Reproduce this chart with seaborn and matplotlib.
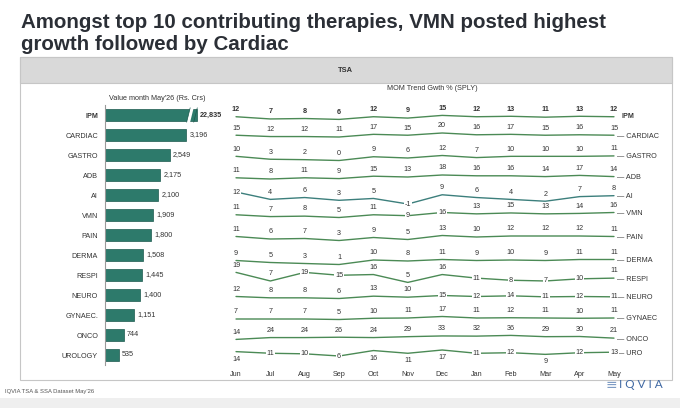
import numpy as np
import pandas as pd
import matplotlib
matplotlib.use("Agg")
import matplotlib.pyplot as plt
import seaborn as sns
from matplotlib.patches import Rectangle

# ---------------- data ----------------
title_lines = ["Amongst top 10 contributing therapies, VMN posted highest",
               "growth followed by Cardiac"]
months = ["Jun", "Jul", "Aug", "Sep", "Oct", "Nov", "Dec", "Jan", "Feb", "Mar", "Apr", "May"]
bar_categories = ["IPM", "CARDIAC", "GASTRO", "ADB", "AI", "VMN", "PAIN", "DERMA",
                  "RESPI", "NEURO", "GYNAEC.", "ONCO", "UROLOGY"]
bar_values = [22835, 3196, 2549, 2175, 2100, 1909, 1800, 1508, 1445, 1400, 1151, 744, 535]
trend_names = ["IPM", "CARDIAC", "GASTRO", "ADB", "AI", "VMN", "PAIN", "DERMA",
               "RESPI", "NEURO", "GYNAEC", "ONCO", "URO"]
ipm = [12, 7, 8, 6, 12, 9, 15, 12, 13, 11, 13, 12]
cardiac = [15, 12, 12, 11, 17, 15, 20, 16, 17, 15, 16, 15]
gastro = [10, 3, 2, 0, 9, 6, 12, 7, 10, 10, 10, 11]
adb = [11, 8, 11, 9, 15, 13, 18, 16, 16, 14, 17, 14]
ai = [12, 4, 6, 3, 5, -1, 9, 6, 4, 2, 7, 8]
vmn = [11, 7, 8, 5, 11, 9, 16, 13, 15, 13, 14, 16]
pain = [11, 6, 7, 3, 9, 5, 13, 10, 12, 12, 12, 11]
derma = [9, 5, 3, 1, 10, 8, 11, 9, 10, 9, 11, 11]
respi = [19, 7, 19, 15, 16, 5, 16, 11, 8, 7, 10, 11]
neuro = [12, 8, 8, 6, 13, 10, 15, 12, 14, 11, 12, 11]
gynaec = [7, 7, 7, 5, 10, 11, 17, 11, 12, 11, 10, 11]
onco = [14, 24, 24, 26, 24, 29, 33, 32, 36, 29, 30, 21]
uro = [14, 11, 10, 6, 16, 11, 17, 11, 12, 9, 12, 13]
trend_series = [ipm, cardiac, gastro, adb, ai, vmn, pain, derma, respi, neuro, gynaec, onco, uro]

# ---------------- style ----------------
BAR_COLOR = "#2d7a6b"
BAR_EDGE = "#1d5a4f"
LINE_COLOR = "#4b8a55"
AI_COLOR = "#3c7f7c"
TXT = "#333333"
FS = 5.2
BAR_CAP = 3620          # axis break for the IPM bar
# label placement per row: a = above, i = inline, b = below
placement = ["aaaaaaaaaaaa", "aaaaaaaaaaaa", "aaaaaaaaaaaa", "aaaaaaaaaaaa",
             "iaaaaiaaaaaa", "aaaaaiiaaaaa", "aaaaaaaaaaaa", "aaaaaaaaaaaa",
             "aaiiaaaiiiia", "aaaaaaiiiiii", "aaaaaaaaaaaa", "aaaaaaaaaaaa",
             "biiibbbiibii"]
amp_px = [4, 4, 5, 4, 12, 5, 5, 5, 10, 3, 3, 4, 6]
row_shift = [0.12, 0.0, 0.15, 0.1, 0.15, 0.0, 0.15, 0.35, 0.12, 0.1, 0.15, 0.12, -0.1]

sns.set_theme(style="white")
plt.rcParams["font.family"] = ["Liberation Sans", "DejaVu Sans"]

W, H = 680, 408
fig = plt.figure(figsize=(W / 100, H / 100), dpi=100)
fig.patch.set_facecolor("white")


def fx(x):
    return x / W


def fy(y):
    return 1 - y / H


# panel box and header band
fig.add_artist(Rectangle((fx(20), fy(380)), fx(652), 323 / H, transform=fig.transFigure,
                         facecolor="white", edgecolor="#c6c6c6", lw=0.8, zorder=-2))
fig.add_artist(Rectangle((fx(20), fy(83)), fx(652), 26 / H, transform=fig.transFigure,
                         facecolor="#d9d9d9", edgecolor="#c6c6c6", lw=0.8, zorder=-1))
fig.add_artist(Rectangle((0, 0), 1, 10 / H, transform=fig.transFigure,
                         facecolor="#efefef", edgecolor="none", zorder=-3))

for k, line in enumerate(title_lines):
    fig.text(fx(21), fy(28.5 + 22 * k), line, ha="left", va="baseline", fontsize=14.8,
             fontweight="bold", color="#2b2f36")
fig.text(fx(345), fy(70), "TSA", ha="center", va="center", fontsize=5.4,
         fontweight="bold", color=TXT)
fig.text(fx(432), fy(89), "MOM Trend Gwth % (SPLY)", ha="center", va="center",
         fontsize=FS, color=TXT)
fig.text(fx(157), fy(98), "Value month May'26 (Rs. Crs)", ha="center", va="center",
         fontsize=FS, color=TXT)
fig.text(fx(5), fy(392), "IQVIA TSA & SSA Dataset May'26", ha="left", va="center",
         fontsize=4.2, color="#555555")
fig.text(fx(617), fy(384.5), "≡", ha="right", va="center", fontsize=10,
         color="#7f9cc4", family="DejaVu Sans")
fig.text(fx(619), fy(384.5), "I Q V I A", ha="left", va="center", fontsize=8.5,
         color="#3f68a3", family=["Lato", "DejaVu Sans"], fontweight="normal")

# ---------------- left: bar chart ----------------
ax_l = fig.add_axes([fx(105), 43 / H, 101.4 / W, 260 / H])
ax_l.set_facecolor("none")
df_bar = pd.DataFrame({"cat": bar_categories,
                       "val": np.minimum(bar_values, BAR_CAP)})
sns.barplot(data=df_bar, x="val", y="cat", orient="h", color=BAR_COLOR, saturation=1,
            width=0.6, edgecolor=BAR_EDGE, linewidth=0.5, ax=ax_l)
ax_l.set_xlim(0, 4000)
ax_l.set_ylim(12.5, -0.5)
ax_l.set_xlabel("")
ax_l.set_ylabel("")
ax_l.set_xticks([])
for s in ["top", "right", "bottom"]:
    ax_l.spines[s].set_visible(False)
ax_l.spines["left"].set_color("#9a9a9a")
ax_l.spines["left"].set_linewidth(0.8)
ax_l.tick_params(axis="y", length=0, pad=5, labelsize=FS, labelcolor=TXT)
for i, lab in enumerate(ax_l.get_yticklabels()):
    if i == 0:
        lab.set_fontweight("bold")
for i, (v, vd) in enumerate(zip(bar_values, df_bar["val"])):
    ax_l.text(vd + 130, i, f"{v:,}", ha="left", va="center", fontsize=FS, color=TXT,
              fontweight="bold" if i == 0 else "normal", clip_on=False)
# break marker on IPM bar
ax_l.plot([BAR_CAP - 330, BAR_CAP - 190], [0.36, -0.36], color="white", lw=2.4,
          solid_capstyle="butt", zorder=5)
for dx in (-400, -120):
    ax_l.plot([BAR_CAP + dx, BAR_CAP + dx + 140], [0.36, -0.36], color=BAR_EDGE, lw=0.5,
              zorder=6)

# ---------------- right: trend strips ----------------
ax_r = fig.add_axes([fx(215.4), 43 / H, 419.2 / W, 260 / H])
ax_r.set_facecolor("none")
xs = np.arange(len(months))
for i, (name, vals) in enumerate(zip(trend_names, trend_series)):
    vals = np.asarray(vals, dtype=float)
    mid = (vals.max() + vals.min()) / 2
    rng = max(vals.max() - vals.min(), 1)
    ys = i + row_shift[i] - (amp_px[i] / 20.0) * (vals - mid) / rng
    df = pd.DataFrame({"m": xs, "y": ys})
    sns.lineplot(data=df, x="m", y="y", ax=ax_r, color=AI_COLOR if name == "AI" else LINE_COLOR,
                 lw=1.0, estimator=None, sort=False)
    for j, (v, y) in enumerate(zip(vals, ys)):
        p = placement[i][j]
        kw = dict(ha="center", va="center", fontsize=FS, color=TXT,
                  fontweight="bold" if i == 0 else "normal", zorder=5)
        if p == "a":
            ax_r.text(j, y - 0.36, f"{int(v)}", **kw)
        elif p == "b":
            ax_r.text(j, y + 0.38, f"{int(v)}", **kw)
        else:
            ax_r.text(j, y, f"{int(v)}",
                      bbox=dict(facecolor="white", edgecolor="none", pad=0.4), **kw)
    if i == 0:
        ax_r.text(11.22, ys[-1], name, ha="left", va="center", fontsize=FS,
                  fontweight="bold", color=TXT, clip_on=False)
    else:
        ax_r.text(11.1, ys[-1] + 0.05, "— " + name, ha="left", va="center", fontsize=FS,
                  color=TXT, clip_on=False)

ax_r.set_xlim(-0.6, 11.6)
ax_r.set_ylim(12.5, -0.5)
ax_r.set_xticks(xs)
ax_r.set_xticklabels(months)
ax_r.set_yticks([])
ax_r.set_xlabel("")
ax_r.set_ylabel("")
for s in ax_r.spines.values():
    s.set_visible(False)
ax_r.tick_params(axis="x", length=0, pad=4, labelsize=FS, labelcolor=TXT)

fig.savefig("out.png", dpi=100, facecolor="white")
